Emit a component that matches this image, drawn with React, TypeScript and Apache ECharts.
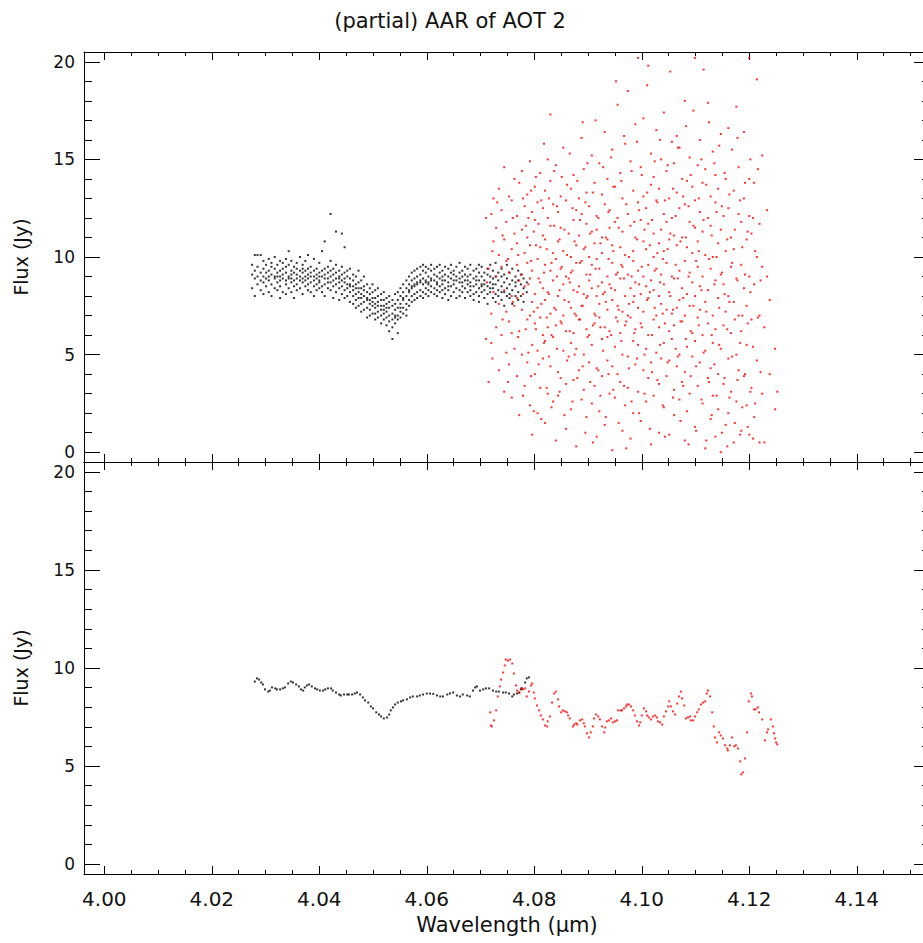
import React, { useEffect, useRef } from "react";
import * as echarts from "echarts";

const titleText = "(partial) AAR of AOT 2";
const xAxisName = "Wavelength (μm)";
const yAxisName = "Flux (Jy)";

const xMajorTicks = [4.0, 4.02, 4.04, 4.06, 4.08, 4.1, 4.12, 4.14];
const xMinorTicks = [
  4.005, 4.01, 4.015, 4.025, 4.03, 4.035, 4.045, 4.05, 4.055, 4.065, 4.07, 4.075,
  4.085, 4.09, 4.095, 4.105, 4.11, 4.115, 4.125, 4.13, 4.135, 4.145, 4.15,
];
const yMajorTicks = [0, 5, 10, 15, 20];
const yMinorTicks = [1, 2, 3, 4, 6, 7, 8, 9, 11, 12, 13, 14, 16, 17, 18, 19];

// Top panel: raw black points (x, several y values at that x)
const topBlackCols: [number, number[]][] = [
  [4.0275, [9.1, 8.4, 9.6]],
  [4.028, [10.1, 8.9, 9.3, 8.0]],
  [4.0285, [10.1, 9.0, 8.6, 9.5]],
  [4.0291, [10.1, 8.8, 9.2, 8.3]],
  [4.0296, [9.4, 8.7, 9.0, 9.8, 8.1]],
  [4.0301, [9.2, 8.5, 9.6, 8.9]],
  [4.0306, [8.8, 9.3, 8.2, 9.9, 9.0]],
  [4.0311, [9.5, 8.6, 9.1, 8.0, 9.7]],
  [4.0317, [8.9, 9.4, 8.4, 9.0, 10.0]],
  [4.0322, [9.2, 8.7, 9.6, 8.3, 9.0]],
  [4.0327, [9.0, 8.5, 9.8, 9.3, 8.8, 7.9]],
  [4.0332, [9.4, 8.9, 8.2, 9.1, 9.7]],
  [4.0338, [8.6, 9.2, 9.9, 8.8, 8.1, 9.5]],
  [4.0343, [9.0, 8.4, 9.6, 8.9, 10.3]],
  [4.0348, [9.3, 8.7, 9.1, 8.2, 9.8, 8.9]],
  [4.0353, [8.8, 9.5, 8.5, 9.2, 7.9]],
  [4.0358, [9.1, 8.6, 9.7, 8.9, 8.3, 9.4]],
  [4.0364, [9.0, 8.4, 9.3, 8.8, 10.0]],
  [4.0369, [8.7, 9.2, 8.1, 9.6, 8.9, 9.4]],
  [4.0374, [9.3, 8.5, 9.0, 8.8, 9.8]],
  [4.0379, [8.9, 9.4, 8.3, 9.1, 8.6, 10.1]],
  [4.0384, [9.0, 8.7, 9.5, 8.2, 9.2]],
  [4.039, [8.8, 9.3, 8.5, 9.0, 9.9, 8.0]],
  [4.0395, [9.1, 8.6, 9.4, 8.9, 8.3]],
  [4.04, [8.7, 9.2, 8.4, 9.7, 9.0, 8.8]],
  [4.0405, [9.0, 8.5, 9.3, 10.3, 8.2]],
  [4.041, [8.9, 9.4, 8.6, 9.1, 8.0, 10.8]],
  [4.0416, [8.7, 9.2, 8.4, 9.5, 8.9]],
  [4.0421, [9.0, 8.3, 9.3, 8.7, 12.2, 9.8]],
  [4.0426, [8.8, 9.1, 8.5, 7.9, 9.4]],
  [4.0431, [8.6, 9.2, 8.9, 8.2, 9.6, 11.3]],
  [4.0437, [8.9, 8.4, 9.0, 8.7, 9.3, 7.8]],
  [4.0442, [8.5, 9.1, 8.8, 8.1, 9.5, 11.2]],
  [4.0447, [8.7, 8.3, 9.2, 8.9, 7.9, 10.5]],
  [4.0452, [8.4, 9.0, 8.6, 8.0, 9.3]],
  [4.0457, [8.6, 8.2, 8.9, 7.7, 9.4, 8.5]],
  [4.0463, [8.3, 8.8, 8.0, 9.1, 7.6, 8.5]],
  [4.0468, [8.1, 8.6, 7.8, 9.0, 8.4, 7.4]],
  [4.0473, [8.2, 7.9, 8.7, 7.5, 8.4, 9.3]],
  [4.0478, [7.9, 8.4, 7.6, 8.8, 8.1, 7.2]],
  [4.0483, [8.0, 7.7, 8.5, 7.3, 8.3, 9.0]],
  [4.0489, [7.8, 8.2, 7.4, 8.6, 7.9, 6.9]],
  [4.0494, [7.6, 8.1, 7.3, 8.4, 7.8, 7.0]],
  [4.0499, [7.9, 7.5, 8.2, 7.1, 8.6, 7.7]],
  [4.0504, [7.4, 7.9, 7.1, 8.3, 7.6, 6.8]],
  [4.0509, [7.7, 7.2, 8.0, 6.9, 7.5, 8.4]],
  [4.0515, [7.3, 7.8, 7.0, 8.1, 7.5, 6.6]],
  [4.052, [7.5, 7.1, 7.8, 6.8, 8.2, 7.3]],
  [4.0525, [7.2, 7.6, 6.9, 7.9, 6.5, 7.4]],
  [4.053, [7.4, 7.0, 7.7, 6.7, 8.0, 6.2]],
  [4.0536, [7.1, 7.5, 6.8, 7.8, 6.4, 5.8]],
  [4.0541, [7.3, 6.9, 7.6, 7.0, 8.1, 6.6]],
  [4.0546, [7.4, 7.0, 7.8, 6.8, 8.2, 6.1]],
  [4.0551, [7.6, 7.2, 8.0, 6.9, 8.4, 7.4]],
  [4.0556, [7.8, 7.4, 8.2, 7.1, 8.6, 7.9]],
  [4.0562, [8.0, 7.6, 8.4, 7.3, 8.8, 7.0]],
  [4.0567, [8.2, 7.8, 8.6, 7.5, 9.0, 8.3]],
  [4.0572, [8.4, 8.0, 8.8, 7.7, 9.2, 8.5]],
  [4.0577, [8.5, 8.1, 8.9, 7.8, 9.3, 8.6]],
  [4.0582, [8.6, 8.2, 9.0, 7.9, 9.4, 8.7]],
  [4.0588, [8.7, 8.3, 9.1, 8.0, 9.5, 8.8]],
  [4.0593, [8.6, 8.9, 8.2, 9.3, 7.9, 9.6]],
  [4.0598, [8.8, 8.4, 9.2, 8.1, 9.5, 8.7]],
  [4.0603, [8.7, 9.0, 8.3, 9.4, 8.0, 8.6]],
  [4.0608, [8.9, 8.5, 9.3, 8.2, 9.6, 8.8]],
  [4.0614, [8.8, 9.1, 8.4, 9.4, 8.1]],
  [4.0619, [8.7, 9.0, 8.3, 9.5, 8.6, 8.0]],
  [4.0624, [8.9, 8.5, 9.2, 8.2, 9.6]],
  [4.0629, [8.6, 9.0, 8.3, 9.3, 8.8, 7.9]],
  [4.0634, [8.8, 8.4, 9.1, 8.1, 9.5]],
  [4.064, [8.7, 9.0, 8.3, 9.4, 8.5, 7.8]],
  [4.0645, [8.9, 8.5, 9.2, 8.0, 9.6]],
  [4.065, [8.6, 9.1, 8.2, 9.3, 8.8]],
  [4.0655, [8.8, 8.4, 9.0, 7.9, 9.5]],
  [4.0661, [8.7, 9.2, 8.3, 8.9, 8.0, 9.7]],
  [4.0666, [8.5, 9.0, 8.2, 9.3, 8.7]],
  [4.0671, [8.8, 8.4, 9.1, 7.9, 9.5]],
  [4.0676, [8.6, 9.0, 8.2, 9.4, 8.8]],
  [4.0681, [8.7, 8.3, 9.1, 8.0, 9.6, 8.5]],
  [4.0687, [8.5, 8.9, 8.1, 9.3, 7.8]],
  [4.0692, [8.6, 9.0, 8.2, 9.4, 8.8]],
  [4.0697, [8.4, 8.8, 8.0, 9.2, 7.7, 9.6]],
  [4.0702, [8.6, 9.0, 8.2, 9.5, 8.5]],
  [4.0707, [8.3, 8.8, 7.9, 9.2, 8.6]],
  [4.0713, [8.5, 9.1, 8.1, 9.4, 7.6]],
  [4.0718, [8.7, 8.2, 9.0, 8.4, 9.6]],
  [4.0723, [8.4, 8.9, 7.9, 9.3, 8.6]],
  [4.0728, [8.6, 8.1, 9.0, 7.7, 9.7]],
  [4.0733, [8.3, 8.8, 8.0, 9.2]],
  [4.0739, [8.5, 9.0, 7.8, 9.4, 8.2]],
  [4.0744, [8.7, 8.2, 9.1, 7.5]],
  [4.0749, [8.4, 8.9, 8.0, 9.6]],
  [4.0754, [8.6, 8.1, 9.2, 7.9]],
  [4.0759, [8.3, 8.8, 7.6, 9.4]],
  [4.0765, [8.5, 9.0, 8.0, 8.7]],
  [4.077, [8.2, 8.8, 9.3, 7.8]],
  [4.0775, [8.6, 8.0, 9.1]],
  [4.078, [8.4, 8.9, 7.7]],
  [4.0786, [8.7, 8.2]],
];

// Top panel: raw red points
const topRedCols: [number, number[]][] = [
  [4.071, [12.0, 5.8]],
  [4.0712, [8.7]],
  [4.0715, [3.6, 9.4]],
  [4.072, [12.2, 7.1, 5.6]],
  [4.0722, [4.8, 10.3]],
  [4.0724, [10.8, 8.2, 13.0]],
  [4.0729, [6.4, 11.5, 9.0]],
  [4.0731, [12.8]],
  [4.0734, [4.2, 13.5, 7.6, 10.1]],
  [4.0739, [9.5, 6.0, 12.4]],
  [4.0741, [6.8, 11.1]],
  [4.0744, [14.6, 8.3, 3.1, 10.9]],
  [4.0748, [7.2, 11.8, 5.1, 9.8]],
  [4.0751, [3.6, 9.9]],
  [4.0753, [13.1, 6.7, 9.2, 4.5]],
  [4.0758, [10.4, 2.8, 8.0, 12.9, 6.1]],
  [4.076, [12.0, 7.7]],
  [4.0763, [7.5, 11.2, 14.0, 5.3]],
  [4.0768, [9.6, 3.9, 12.1, 7.9, 10.7]],
  [4.077, [5.9, 10.1]],
  [4.0772, [6.2, 13.8, 8.8, 1.9]],
  [4.0777, [11.4, 5.0, 9.1, 14.4, 7.3]],
  [4.0779, [13.0, 2.9, 8.1]],
  [4.0782, [8.5, 12.6, 3.4, 10.2]],
  [4.0784, [6.3, 11.6]],
  [4.0787, [6.8, 13.2, 9.7, 4.6, 11.0]],
  [4.0789, [5.1, 12.0, 8.6]],
  [4.0792, [10.6, 7.0, 14.9, 2.4, 8.9]],
  [4.0794, [9.8, 3.9, 13.4]],
  [4.0796, [12.3, 5.5, 9.3, 0.9, 7.7]],
  [4.0799, [7.2, 11.3, 2.1]],
  [4.0801, [8.1, 11.9, 4.0, 13.6, 6.6]],
  [4.0803, [10.6, 6.3, 14.1]],
  [4.0806, [9.9, 2.0, 12.8, 7.4, 5.2]],
  [4.0808, [4.5, 8.9, 11.7]],
  [4.0811, [14.3, 6.9, 10.5, 3.3, 8.7]],
  [4.0813, [12.9, 7.6, 1.7]],
  [4.0816, [11.1, 4.8, 8.4, 12.5, 6.0]],
  [4.0818, [9.2, 5.6, 15.8]],
  [4.082, [7.8, 13.4, 1.5, 9.6, 10.9, 5.7]],
  [4.0823, [6.9, 10.4, 3.3]],
  [4.0825, [12.0, 3.0, 8.2, 6.4, 15.0]],
  [4.0827, [13.0, 8.1, 4.9]],
  [4.083, [9.3, 11.6, 4.4, 7.1, 13.9, 17.3]],
  [4.0832, [2.3, 9.7, 6.0]],
  [4.0835, [5.9, 10.2, 2.6, 8.8, 12.7]],
  [4.0837, [11.6, 7.4, 14.4]],
  [4.084, [14.7, 7.3, 0.6, 9.9, 6.5]],
  [4.0842, [5.3, 9.0, 12.6]],
  [4.0844, [10.8, 4.1, 12.3, 8.0, 2.9]],
  [4.0847, [8.3, 3.1, 10.9]],
  [4.0849, [6.7, 13.1, 9.4, 11.5, 3.8]],
  [4.0851, [14.1, 6.6, 9.5]],
  [4.0854, [8.6, 5.2, 15.6, 7.0, 10.3]],
  [4.0856, [1.9, 11.4, 7.8]],
  [4.0859, [12.9, 3.5, 9.0, 6.2, 1.2]],
  [4.0861, [10.1, 4.7, 13.7]],
  [4.0864, [7.7, 11.2, 4.9, 8.9]],
  [4.0866, [6.2, 8.7, 15.3]],
  [4.0868, [10.0, 5.6, 13.5, 2.2, 7.4, 9.2]],
  [4.0871, [12.5, 2.6, 9.3]],
  [4.0873, [6.1, 11.9, 8.3, 3.7, 14.2]],
  [4.0875, [7.1, 10.8, 5.0]],
  [4.0878, [9.7, 0.3, 12.4, 7.0, 5.3, 10.6]],
  [4.088, [3.8, 13.9, 8.2]],
  [4.0883, [13.0, 8.5, 4.2, 11.1, 6.8]],
  [4.0885, [9.7, 6.8, 11.9]],
  [4.0888, [7.5, 16.1, 9.8, 2.7, 12.2]],
  [4.089, [16.9, 4.4, 7.5]],
  [4.0892, [10.4, 5.0, 8.1, 14.5, 3.2]],
  [4.0895, [10.5, 1.0, 12.8]],
  [4.0897, [6.3, 11.7, 9.1, 1.8, 7.9, 13.3]],
  [4.0899, [8.0, 5.9, 14.8]],
  [4.0902, [12.6, 4.6, 8.8, 10.0, 6.0]],
  [4.0904, [11.2, 3.6, 9.1]],
  [4.0907, [8.4, 15.2, 5.5, 11.3, 2.5, 9.6]],
  [4.0909, [6.5, 13.3, 0.5]],
  [4.0912, [7.1, 13.8, 3.4, 10.7, 6.6]],
  [4.0914, [9.4, 7.0, 17.0]],
  [4.0916, [9.9, 4.3, 12.1, 8.0, 0.8, 11.4]],
  [4.0919, [4.2, 12.0, 8.5]],
  [4.0921, [14.8, 6.9, 9.4, 2.1, 7.6]],
  [4.0923, [10.7, 2.9, 6.4]],
  [4.0926, [5.8, 11.0, 8.7, 13.2, 3.9, 10.2]],
  [4.0928, [14.6, 8.1, 5.2]],
  [4.0931, [8.2, 16.4, 6.4, 12.7, 1.4]],
  [4.0933, [7.7, 11.0, 1.8]],
  [4.0936, [10.9, 4.7, 9.0, 7.3, 14.0, 5.9]],
  [4.0938, [12.3, 4.0, 9.9]],
  [4.094, [12.4, 8.6, 3.0, 11.5, 6.2]],
  [4.0943, [6.0, 15.1, 8.4]],
  [4.0945, [7.8, 15.5, 9.7, 0.1, 10.6, 4.4]],
  [4.0947, [3.2, 10.3, 13.6]],
  [4.095, [13.6, 5.4, 8.3, 2.8, 11.8]],
  [4.0952, [9.1, 6.9, 19.0]],
  [4.0955, [9.2, 6.7, 12.0, 4.0, 17.8, 7.5]],
  [4.0957, [11.5, 1.5, 7.3]],
  [4.096, [10.5, 3.6, 8.9, 14.3, 6.1]],
  [4.0962, [5.7, 13.9, 9.6]],
  [4.0964, [5.0, 11.3, 9.5, 1.1, 13.0, 7.2]],
  [4.0967, [8.9, 3.4, 16.2]],
  [4.0969, [8.0, 15.8, 6.5, 10.1, 2.4]],
  [4.0971, [12.7, 6.7, 0.2]],
  [4.0974, [12.2, 4.9, 9.1, 7.0, 18.5, 3.3]],
  [4.0976, [7.6, 10.0, 4.3]],
  [4.0979, [6.9, 11.6, 8.4, 14.9, 0.7]],
  [4.0981, [14.4, 9.0, 2.6]],
  [4.0984, [10.3, 5.7, 13.4, 7.7, 2.0, 9.8]],
  [4.0986, [6.1, 11.8, 8.0]],
  [4.0988, [8.7, 16.8, 4.5, 11.0, 6.3]],
  [4.0991, [10.9, 4.8, 15.9]],
  [4.0993, [20.2, 9.3, 3.1, 12.8, 7.4, 5.5]],
  [4.0995, [2.0, 8.6, 12.4]],
  [4.0998, [11.9, 6.6, 8.1, 14.6, 1.6]],
  [4.1, [9.5, 6.4, 14.2]],
  [4.1003, [7.2, 10.8, 4.2, 13.1, 9.0, 17.1]],
  [4.1005, [5.0, 11.4, 3.0]],
  [4.1008, [5.3, 12.5, 8.5, 2.6, 10.4]],
  [4.101, [13.3, 7.8, 18.8]],
  [4.1012, [19.8, 9.6, 6.0, 11.7, 3.8, 7.9]],
  [4.1015, [8.2, 1.2, 10.6]],
  [4.1017, [13.7, 4.6, 8.8, 15.3, 0.4]],
  [4.1019, [11.9, 6.0, 4.1]],
  [4.1022, [8.3, 11.2, 6.8, 2.9, 10.0, 14.1]],
  [4.1024, [7.4, 14.9, 9.3]],
  [4.1027, [7.0, 12.9, 5.1, 9.4, 16.5]],
  [4.1029, [3.7, 10.2, 12.8]],
  [4.1032, [10.7, 3.5, 8.0, 13.5, 6.4, 1.0]],
  [4.1034, [16.0, 5.5, 8.7]],
  [4.1036, [9.1, 15.0, 4.8, 11.4, 7.6]],
  [4.1039, [9.9, 2.4, 7.1]],
  [4.1041, [5.6, 12.2, 8.6, 17.4, 2.3, 10.3]],
  [4.1043, [6.6, 12.9, 0.8]],
  [4.1046, [11.8, 7.3, 3.9, 14.4, 9.7]],
  [4.1048, [10.4, 4.6, 14.7]],
  [4.1051, [6.2, 10.9, 13.0, 0.9, 8.2, 4.7]],
  [4.1053, [8.0, 11.2, 19.5]],
  [4.1056, [15.9, 9.0, 5.8, 12.0, 7.1]],
  [4.1058, [2.8, 7.3, 13.5]],
  [4.106, [8.9, 3.2, 11.1, 14.8, 6.5, 1.9]],
  [4.1063, [12.1, 9.6, 5.3]],
  [4.1065, [10.6, 7.4, 13.3, 4.4, 16.2]],
  [4.1067, [4.9, 15.6, 8.9]],
  [4.107, [12.5, 5.0, 9.3, 2.7, 7.8, 15.6]],
  [4.1072, [10.8, 1.6, 6.7]],
  [4.1075, [6.7, 11.0, 8.4, 14.0, 3.6]],
  [4.1077, [7.9, 13.1, 3.4]],
  [4.108, [9.8, 4.1, 12.7, 7.0, 18.0, 0.6]],
  [4.1082, [16.7, 5.8, 11.0]],
  [4.1084, [13.9, 8.1, 5.4, 10.5, 2.1]],
  [4.1087, [9.0, 0.4, 12.6]],
  [4.1089, [7.5, 11.8, 3.0, 15.1, 9.2]],
  [4.1091, [6.2, 14.2, 3.9]],
  [4.1094, [10.2, 6.1, 13.6, 4.9, 8.7]],
  [4.1096, [11.6, 7.5, 17.5]],
  [4.1099, [20.2, 8.0, 1.3, 11.5, 5.7, 12.9]],
  [4.1101, [4.4, 9.8, 1.1]],
  [4.1104, [9.5, 14.7, 6.9, 3.4, 10.8]],
  [4.1106, [13.0, 6.5, 10.3]],
  [4.1108, [7.3, 12.3, 4.6, 16.0, 8.5]],
  [4.1111, [2.7, 8.3, 15.0]],
  [4.1113, [11.3, 2.5, 9.0, 13.8, 6.0]],
  [4.1115, [11.9, 5.1, 19.6]],
  [4.1118, [5.2, 10.1, 14.5, 7.7, 0.2]],
  [4.112, [7.2, 13.7, 0.6]],
  [4.1123, [12.0, 8.3, 3.8, 17.9, 6.6]],
  [4.1125, [9.9, 3.6, 16.9]],
  [4.1128, [9.4, 1.7, 11.6, 13.1, 4.3]],
  [4.113, [6.0, 11.1, 1.9]],
  [4.1132, [7.0, 15.4, 2.9, 10.0, 5.6]],
  [4.1135, [14.8, 8.6, 4.5]],
  [4.1137, [12.8, 8.8, 0.8, 6.3, 14.2]],
  [4.1139, [10.0, 2.9, 12.3]],
  [4.1142, [4.0, 10.7, 7.9, 13.5, 2.2]],
  [4.1144, [5.5, 15.7, 7.4]],
  [4.1147, [9.1, 16.3, 5.3, 11.4, 0.0]],
  [4.1149, [12.6, 1.0, 9.2]],
  [4.1152, [6.5, 12.1, 3.5, 8.6]],
  [4.1154, [3.8, 8.1, 14.3]],
  [4.1156, [14.0, 1.4, 10.3, 7.2]],
  [4.1159, [10.9, 6.3, 0.3]],
  [4.1161, [8.0, 4.8, 12.5, 2.0, 16.6]],
  [4.1163, [7.7, 13.2, 2.8]],
  [4.1166, [11.0, 6.1, 9.5, 3.1]],
  [4.1168, [15.5, 4.9, 9.7]],
  [4.1171, [13.4, 0.5, 7.7, 10.4]],
  [4.1173, [1.5, 11.4, 6.8]],
  [4.1176, [5.0, 17.7, 8.9, 2.6]],
  [4.1178, [8.8, 16.1, 3.7]],
  [4.118, [12.2, 7.0, 4.2, 14.6]],
  [4.1183, [12.9, 5.6, 0.9]],
  [4.1185, [9.6, 1.1, 11.8, 6.2]],
  [4.1187, [7.0, 10.5, 2.3]],
  [4.119, [16.4, 3.9, 8.4, 13.0]],
  [4.1192, [13.8, 4.0, 9.1]],
  [4.1195, [7.5, 10.9, 2.4, 5.5]],
  [4.1197, [1.3, 6.6, 11.3]],
  [4.12, [14.0, 9.0, 0.9, 12.1, 20.2]],
  [4.1202, [8.2, 15.0, 3.1]],
  [4.1204, [6.8, 3.3, 11.2]],
  [4.1207, [5.4, 12.0, 0.7]],
  [4.1209, [8.6, 1.8, 13.8]],
  [4.1211, [10.3, 2.5]],
  [4.1214, [19.1, 10.0, 4.7]],
  [4.1216, [6.9, 14.5]],
  [4.1219, [7.0, 0.5, 11.7]],
  [4.1221, [4.1, 8.8]],
  [4.1224, [9.5, 3.0, 15.2]],
  [4.1228, [0.5, 6.4]],
  [4.1233, [9.0, 12.4]],
  [4.1238, [4.0, 7.8]],
  [4.1248, [5.3, 2.2]],
  [4.1252, [3.1]],
];

// Bottom panel: averaged (rebinned) black points
const bottomBlack: [number, number][] = [
  [4.028, 9.31], [4.0284, 9.47], [4.0288, 9.41], [4.0292, 9.26], [4.0295, 9.16],
  [4.0299, 8.91], [4.0305, 8.8], [4.0308, 8.85], [4.0312, 9.01], [4.0318, 8.96],
  [4.0321, 8.91], [4.0327, 8.91], [4.0332, 8.96], [4.0336, 9.01], [4.0342, 9.21],
  [4.0347, 9.31], [4.0351, 9.26], [4.0357, 9.16], [4.0362, 9.06], [4.0366, 8.91],
  [4.037, 8.85], [4.0373, 9.01], [4.0377, 9.11], [4.0381, 9.16], [4.0386, 9.06],
  [4.0392, 8.96], [4.0396, 8.91], [4.0401, 8.85], [4.0407, 8.85], [4.0411, 8.91],
  [4.0416, 8.96], [4.0422, 8.96], [4.0425, 8.85], [4.0431, 8.75], [4.0437, 8.65],
  [4.044, 8.6], [4.0446, 8.65], [4.0452, 8.65], [4.0455, 8.65], [4.0461, 8.65],
  [4.0466, 8.7], [4.047, 8.75], [4.0476, 8.65], [4.0481, 8.5], [4.0485, 8.35],
  [4.0491, 8.24], [4.0496, 8.04], [4.05, 7.94], [4.0506, 7.74], [4.0511, 7.63],
  [4.0515, 7.53], [4.052, 7.43], [4.0526, 7.48], [4.053, 7.63], [4.0533, 7.84],
  [4.0537, 7.99], [4.0541, 8.14], [4.0546, 8.24], [4.0552, 8.3], [4.0556, 8.35],
  [4.0563, 8.4], [4.0569, 8.5], [4.0574, 8.55], [4.0582, 8.55], [4.0587, 8.6],
  [4.0593, 8.65], [4.06, 8.7], [4.0606, 8.7], [4.0612, 8.68], [4.0619, 8.6],
  [4.0625, 8.55], [4.063, 8.55], [4.0638, 8.65], [4.0643, 8.7], [4.0649, 8.75],
  [4.0656, 8.6], [4.0662, 8.55], [4.0667, 8.65], [4.0675, 8.6], [4.068, 8.55],
  [4.0686, 8.85], [4.069, 9.01], [4.0693, 9.06], [4.0699, 8.85], [4.0705, 8.91],
  [4.071, 8.96], [4.0716, 8.96], [4.0723, 8.85], [4.0729, 8.8], [4.0734, 8.8],
  [4.0742, 8.75], [4.0747, 8.75], [4.0753, 8.7], [4.0759, 8.55], [4.0762, 8.65],
  [4.0768, 8.7], [4.0772, 8.75], [4.0775, 8.91], [4.0777, 8.96], [4.0783, 9.26],
  [4.0786, 9.47], [4.079, 9.52],
];

// Bottom panel: averaged (rebinned) red points
const bottomRed: [number, number][] = [
  [4.0718, 7.74], [4.0719, 7.07], [4.0721, 7.02], [4.0725, 7.33], [4.0729, 7.84],
  [4.0732, 8.55], [4.0736, 9.06], [4.0738, 9.41], [4.0742, 9.77], [4.0745, 10.13],
  [4.0747, 10.43], [4.0751, 10.38], [4.0755, 10.43], [4.0759, 10.23], [4.0762, 9.72],
  [4.0766, 9.11], [4.0768, 8.85], [4.0772, 8.75], [4.0775, 8.96], [4.0779, 8.91],
  [4.0783, 8.96], [4.0786, 8.55], [4.079, 8.8], [4.0794, 9.11], [4.0796, 9.21],
  [4.0799, 8.75], [4.0801, 8.45], [4.0805, 8.09], [4.0809, 7.84], [4.0812, 7.58],
  [4.0816, 7.38], [4.082, 7.07], [4.0824, 7.02], [4.0825, 7.28], [4.0829, 7.53],
  [4.0833, 8.24], [4.0837, 8.7], [4.084, 8.8], [4.0844, 8.4], [4.0846, 8.04],
  [4.085, 7.74], [4.0853, 7.84], [4.0857, 7.79], [4.0861, 7.74], [4.0863, 7.58],
  [4.0866, 7.43], [4.0872, 7.02], [4.0874, 7.12], [4.0878, 7.18], [4.088, 7.12],
  [4.0885, 7.33], [4.0889, 7.38], [4.0892, 7.18], [4.0894, 7.02], [4.0898, 6.67],
  [4.0902, 6.46], [4.0905, 6.72], [4.0909, 7.02], [4.0911, 7.43], [4.0915, 7.63],
  [4.0919, 7.53], [4.0922, 7.38], [4.0926, 7.02], [4.093, 6.72], [4.0932, 6.97],
  [4.0935, 7.28], [4.0939, 7.33], [4.0943, 7.43], [4.0946, 7.23], [4.095, 7.28],
  [4.0954, 7.33], [4.0956, 7.84], [4.0961, 7.84], [4.0963, 7.84], [4.0967, 7.94],
  [4.0971, 8.04], [4.0972, 8.14], [4.0976, 8.14], [4.098, 8.04], [4.0984, 7.84],
  [4.0987, 7.58], [4.0991, 7.28], [4.0995, 7.07], [4.0997, 7.23], [4.1, 7.58],
  [4.1004, 7.94], [4.1008, 7.79], [4.101, 7.58], [4.1013, 7.48], [4.1017, 7.38],
  [4.1021, 7.53], [4.1025, 7.58], [4.1028, 7.48], [4.103, 7.28], [4.1034, 7.23],
  [4.1038, 7.12], [4.1041, 7.53], [4.1045, 7.79], [4.1049, 8.04], [4.1051, 8.3],
  [4.1054, 8.04], [4.1058, 7.79], [4.1062, 7.63], [4.1066, 8.19], [4.1069, 8.55],
  [4.1073, 8.8], [4.1075, 8.45], [4.1079, 8.09], [4.1082, 7.43], [4.1086, 7.48],
  [4.109, 7.53], [4.1091, 7.33], [4.1095, 7.33], [4.1099, 7.53], [4.1103, 7.74],
  [4.1106, 7.89], [4.111, 8.14], [4.1114, 8.24], [4.1118, 8.3], [4.1121, 8.7],
  [4.1123, 8.85], [4.1127, 8.55], [4.1131, 7.74], [4.1134, 7.02], [4.1136, 6.46],
  [4.114, 6.21], [4.1144, 6.72], [4.1147, 6.56], [4.1151, 6.41], [4.1155, 6.06],
  [4.1159, 5.9], [4.116, 5.8], [4.1164, 6.06], [4.1168, 6.46], [4.1172, 6.01],
  [4.1175, 6.06], [4.1179, 5.9], [4.1183, 5.24], [4.1185, 4.58], [4.1188, 4.68],
  [4.1192, 5.39], [4.1196, 6.72], [4.1199, 8.3], [4.1203, 8.7], [4.1205, 8.55],
  [4.1209, 7.89], [4.1212, 7.89], [4.1216, 7.99], [4.1218, 7.74], [4.1224, 7.38],
  [4.1229, 6.31], [4.1233, 6.72], [4.1235, 6.87], [4.124, 7.38], [4.1244, 7.02],
  [4.1246, 6.67], [4.1248, 6.41], [4.125, 6.21], [4.1252, 6.11],
];

const X_MIN = 3.99622;
const X_MAX = 4.15362;
const Y_MIN = -0.5;
const Y_MAX = 20.5;

const FONT = "DejaVu Sans";
const INK = "#111";

function expand(cols: [number, number[]][]): [number, number][] {
  const out: [number, number][] = [];
  cols.forEach(([x, ys]) => ys.forEach((y) => out.push([x, y])));
  return out;
}

function xAxisDef(grid: number, position: "top" | "bottom", ticks: number[], len: number, main: boolean, labels: boolean) {
  return {
    type: "value",
    gridIndex: grid,
    position,
    min: X_MIN,
    max: X_MAX,
    name: labels ? xAxisName : "",
    nameLocation: "middle",
    nameGap: 40,
    nameTextStyle: { fontFamily: FONT, fontSize: 21, color: INK },
    axisLine: { show: main, onZero: false, lineStyle: { color: "#000", width: 1 } },
    axisTick: { show: true, inside: true, length: len, customValues: ticks, lineStyle: { color: "#000", width: 1 } },
    axisLabel: {
      show: labels,
      customValues: xMajorTicks,
      margin: 15,
      fontFamily: FONT,
      fontSize: 20,
      color: INK,
      formatter: (v: number) => v.toFixed(2),
    },
    splitLine: { show: false },
  };
}

function yAxisDef(grid: number, position: "left" | "right", ticks: number[], len: number, main: boolean, labels: boolean) {
  return {
    type: "value",
    gridIndex: grid,
    position,
    min: Y_MIN,
    max: Y_MAX,
    name: labels ? yAxisName : "",
    nameLocation: "middle",
    nameGap: 54,
    nameTextStyle: { fontFamily: FONT, fontSize: 19, color: INK },
    axisLine: { show: main, onZero: false, lineStyle: { color: "#000", width: 1 } },
    axisTick: { show: true, inside: true, length: len, customValues: ticks, lineStyle: { color: "#000", width: 1 } },
    axisLabel: {
      show: labels,
      customValues: yMajorTicks,
      margin: 9,
      fontFamily: FONT,
      fontSize: 17,
      color: INK,
      formatter: (v: number) => String(v),
    },
    splitLine: { show: false },
  };
}

export default function App() {
  const ref = useRef<HTMLDivElement>(null);

  useEffect(() => {
    if (!ref.current) return;
    const chart = echarts.init(ref.current, null, { renderer: "svg" });

    const xAxes: any[] = [];
    const yAxes: any[] = [];
    [0, 1].forEach((g) => {
      const isBottom = g === 1;
      xAxes.push(xAxisDef(g, "bottom", xMajorTicks, 8, true, isBottom));
      xAxes.push(xAxisDef(g, "top", xMajorTicks, 8, true, false));
      xAxes.push(xAxisDef(g, "bottom", xMinorTicks, 4, false, false));
      xAxes.push(xAxisDef(g, "top", xMinorTicks, 4, false, false));
      yAxes.push(yAxisDef(g, "left", yMajorTicks, 16, true, true));
      yAxes.push(yAxisDef(g, "right", yMajorTicks, 16, true, false));
      yAxes.push(yAxisDef(g, "left", yMinorTicks, 8, false, false));
      yAxes.push(yAxisDef(g, "right", yMinorTicks, 8, false, false));
    });

    const dot = (color: string) => ({
      type: "scatter",
      symbol: "rect",
      symbolSize: [2, 2],
      itemStyle: { color },
      silent: true,
    });

    chart.setOption({
      animation: false,
      backgroundColor: "#fff",
      graphic: [
        {
          type: "text",
          x: 450,
          y: 21,
          style: {
            text: titleText,
            fontFamily: FONT,
            fontSize: 21,
            fill: INK,
            align: "center",
            verticalAlign: "middle",
          },
        },
      ],
      grid: [
        { left: 84, top: 52, width: 846, height: 410, containLabel: false },
        { left: 84, top: 462, width: 846, height: 412, containLabel: false },
      ],
      xAxis: xAxes,
      yAxis: yAxes,
      series: [
        { ...dot("#000000"), name: "raw black", xAxisIndex: 0, yAxisIndex: 0, data: expand(topBlackCols) },
        { ...dot("#ff0000"), name: "raw red", xAxisIndex: 0, yAxisIndex: 0, data: expand(topRedCols) },
        { ...dot("#000000"), name: "avg black", xAxisIndex: 4, yAxisIndex: 4, data: bottomBlack },
        { ...dot("#ff0000"), name: "avg red", xAxisIndex: 4, yAxisIndex: 4, data: bottomRed },
      ],
    });

    return () => chart.dispose();
  }, []);

  return (
    <div style={{ position: "fixed", left: 0, top: 0, width: 923, height: 943, overflow: "hidden", background: "#fff" }}>
      <div ref={ref} style={{ width: 940, height: 943 }} />
    </div>
  );
}
